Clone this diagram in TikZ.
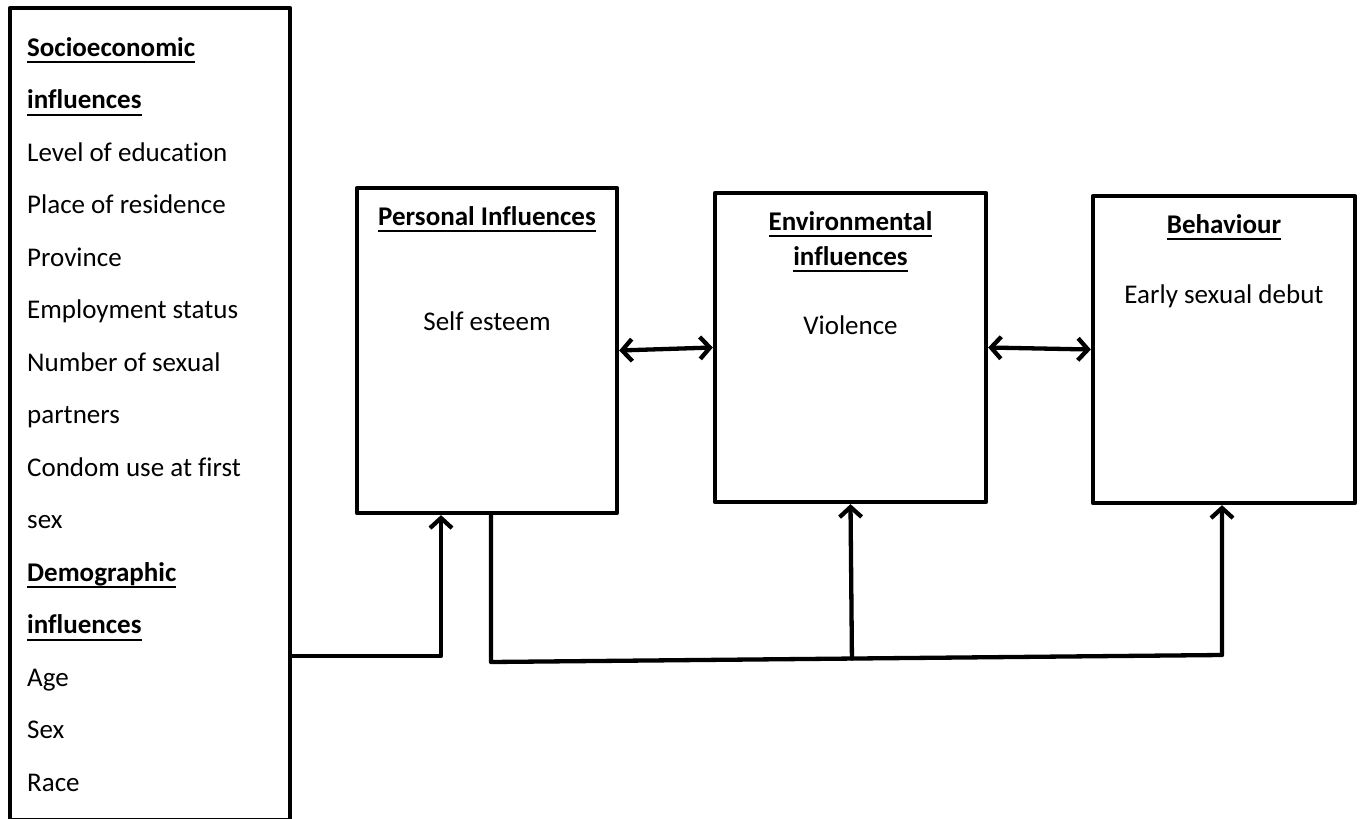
\documentclass[tikz,border=0pt]{standalone}
\usepackage{fontspec}
\setmainfont[Ligatures=CommonOff]{Carlito}
\usetikzlibrary{arrows.meta}
\usetikzlibrary{calc}
\newcommand{\ulbf}[1]{\setbox0=\hbox{\bfseries #1}\rlap{\rule[-7pt]{\wd0}{2pt}}\box0}

\begin{document}
\begin{tikzpicture}[line cap=round,line join=round,x=1pt,y=-1pt,
  >={Straight Barb[length=10pt,width=22pt]},
  box/.style={draw,line width=4.3pt,inner sep=0pt},
  item/.style={anchor=base west,inner sep=0pt,font=\fontsize{27}{32}\selectfont},
  txt/.style={anchor=base,inner sep=0pt,font=\fontsize{27}{32}\selectfont},
  link/.style={line width=4.3pt}]
\useasboundingbox (0,0) rectangle (1363,819);
% left list
\node[box,minimum width=280pt,minimum height=812pt] (demog) at (150,414) {};
\foreach \txt [count=\i] in {\ulbf{Socioeconomic},\ulbf{influences},Level of education,Place of residence,Province,Employment status,Number of sexual,partners,Condom use at first,sex,\ulbf{Demographic},\ulbf{influences},Age,Sex,Race}
  \node[item] (f\i) at (27,{56+52.5*(\i-1)}) {\txt};
% boxes
\node[box,minimum width=260pt,minimum height=325pt] (pers) at (487,350.5) {};
\node[box,minimum width=271pt,minimum height=309pt] (env) at (850.5,347.5) {};
\node[box,minimum width=262pt,minimum height=307pt] (beh) at (1224,349.5) {};
\node[txt] (perst) at (487,225) {\ulbf{Personal Influences}};
\node[txt] (persx) at (487,330) {Self esteem};
\node[txt] (envt) at (850.5,230) {\ulbf{Environmental}};
\node[txt] (envu) at (850.5,265) {\ulbf{influences}};
\node[txt] (envx) at (850.5,334) {Violence};
\node[txt] (beht) at (1224,233) {\ulbf{Behaviour}};
\node[txt] (behx) at (1224,303) {Early sexual debut};
% arrows
\draw[link,<->] (pers.east) -- (env.west);
\draw[link,<->] (env.east) -- (beh.west);
\coordinate (k1) at (441,656);
\coordinate (b1) at (491,662);
\coordinate (b2) at (1222,655);
\draw[link,->] (demog.east |- k1) -- (k1) -- (pers.south -| k1);
\draw[link,->] (pers.south -| b1) -- (b1) -- (b2) -- (beh.south -| b2);
\draw[link,->] ($(b1)!(env.south)!(b2)$) -- (env.south);
\end{tikzpicture}
\end{document}
